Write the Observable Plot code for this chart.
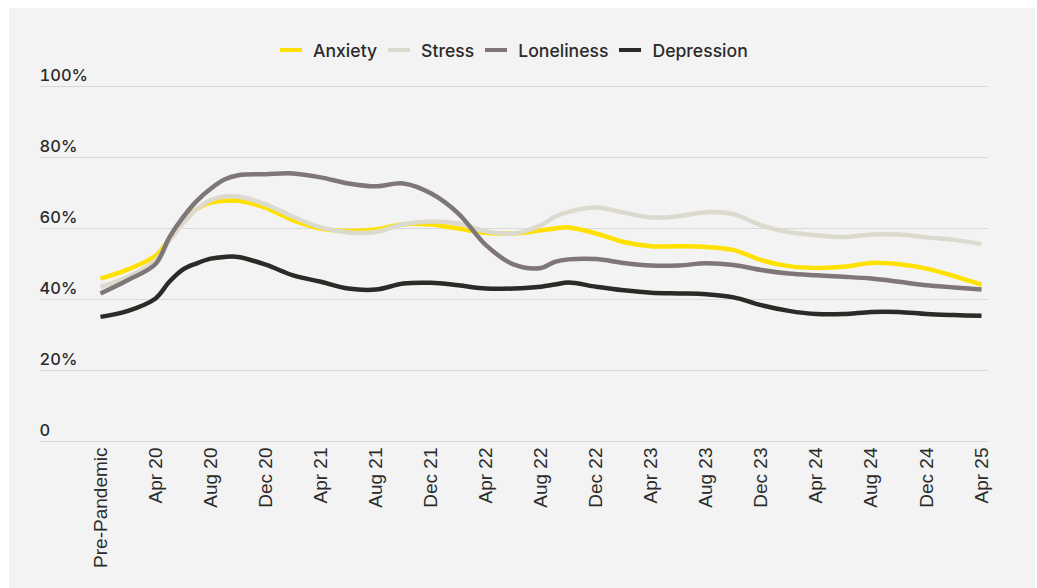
<!DOCTYPE html>
<html><head><meta charset="utf-8">
<script src="https://cdn.jsdelivr.net/npm/d3@7"></script>
<script src="https://cdn.jsdelivr.net/npm/@observablehq/plot@0.6"></script>
<style>
body{margin:0;background:#fff;width:1037px;height:588px;overflow:hidden;position:relative;font-family:Inter,sans-serif}
#panel{position:absolute;left:9px;top:8px;width:1026px;height:580px;background:#f3f3f3}
#legend{position:absolute;left:280px;top:38px;height:24px;display:flex;align-items:center;font-size:17.6px;font-weight:500;color:#2b2b2b;white-space:nowrap}
.item{display:flex;align-items:center;margin-right:11px}
.sw{width:22px;height:4px;margin-right:11px}
#chart{position:absolute;left:0;top:0}
</style></head><body>
<div id="panel"></div>
<div id="legend"></div>
<div id="chart"></div>
<script>
// month offsets relative to Apr 2020 (Pre-Pandemic shown at -4)
const monthIndex = [-4,-2,0,1,2,3,4,5,6,8,10,12,14,16,18,20,22,24,26,28,29,30,32,34,36,38,40,42,44,46,48,50,52,54,56,58,60];
const anxiety    = [45.9,48.5,52.3,57,62,65.5,67.3,67.8,67.8,65.8,62.3,60,59.3,59.7,61.2,61.1,60,58.8,58.6,59.5,60,60.3,58.6,56.2,55,55,54.8,53.9,51.1,49.4,48.9,49.2,50.3,49.9,48.7,46.6,44.2];
const stress     = [43.5,46.4,51,56.5,61.5,65.5,68,69,69,66.8,63.3,60.3,58.9,59,61.2,62,61.4,59.2,58.6,60.9,63.3,64.7,65.9,64.5,63.1,63.5,64.6,64,60.9,59,58.1,57.6,58.3,58.3,57.5,56.8,55.6];
const loneliness = [41.7,45.5,50,57.5,63.2,67.8,71.2,73.8,75,75.3,75.5,74.4,72.7,71.9,72.7,69.9,64.2,55.3,49.9,48.9,50.6,51.3,51.4,50.3,49.6,49.6,50.2,49.7,48.3,47.3,46.8,46.4,45.9,45,44,43.4,42.8];
const depression = [35.1,36.8,40.3,45,48.5,50.2,51.5,52,52,49.8,46.8,45,43.1,42.8,44.5,44.7,44,43.1,43.1,43.6,44.2,44.8,43.6,42.6,41.9,41.7,41.5,40.6,38.4,36.8,35.9,35.9,36.5,36.5,35.9,35.6,35.4];

const seriesNames  = ["Anxiety","Stress","Loneliness","Depression"];
const seriesColors = ["#ffe100","#dcdacf","#7e7677","#2b2a26"];
const seriesValues = [anxiety, stress, loneliness, depression];

const xTickLabels = ["Pre-Pandemic","Apr 20","Aug 20","Dec 20","Apr 21","Aug 21","Dec 21","Apr 22","Aug 22","Dec 22","Apr 23","Aug 23","Dec 23","Apr 24","Aug 24","Dec 24","Apr 25"];
const xTickMonths = [-4,0,4,8,12,16,20,24,28,32,36,40,44,48,52,56,60];
const yTicks = [0,20,40,60,80,100];

const data = [];
seriesNames.forEach((name, s) => monthIndex.forEach((m, i) => data.push({month: m, value: seriesValues[s][i], series: name})));
const labelOf = new Map(xTickMonths.map((m, i) => [m, xTickLabels[i]]));

// legend
const legend = document.getElementById("legend");
seriesNames.forEach((n, i) => {
  const it = document.createElement("div"); it.className = "item";
  const sw = document.createElement("div"); sw.className = "sw"; sw.style.background = seriesColors[i];
  const tx = document.createElement("span"); tx.textContent = n;
  it.append(sw, tx); legend.append(it);
});

const chart = Plot.plot({
  width: 1037, height: 588,
  marginLeft: 40, marginRight: 49, marginTop: 86, marginBottom: 147,
  style: {background: "transparent", color: "#2b2b2b", overflow: "visible"},
  x: {domain: [-4, 60], range: [100, 981], label: null},
  y: {domain: [0, 100], label: null},
  color: {domain: seriesNames, range: seriesColors},
  marks: [
    Plot.gridY(yTicks, {stroke: "#d9d9d9", strokeOpacity: 1, strokeWidth: 1}),
    Plot.axisY(yTicks, {tickSize: 0, textAnchor: "start", dx: 8, dy: -10.3, tickFormat: d => d === 0 ? "0" : d + "%", fontSize: 16.5, fontWeight: 500, fontFamily: "Inter", fill: "#2b2b2b"}),
    Plot.axisX(xTickMonths, {tickSize: 0, tickRotate: -90, tickPadding: 6, tickFormat: d => labelOf.get(d), fontSize: 19, fontFamily: "Liberation Sans, Arial, sans-serif", fill: "#2b2b2b"}),
    Plot.lineY(data, {x: "month", y: "value", stroke: "series", z: "series", strokeWidth: 4.5, curve: "catmull-rom", strokeLinecap: "butt", strokeLinejoin: "round"})
  ]
});
document.getElementById("chart").append(chart);
</script>
</body></html>
